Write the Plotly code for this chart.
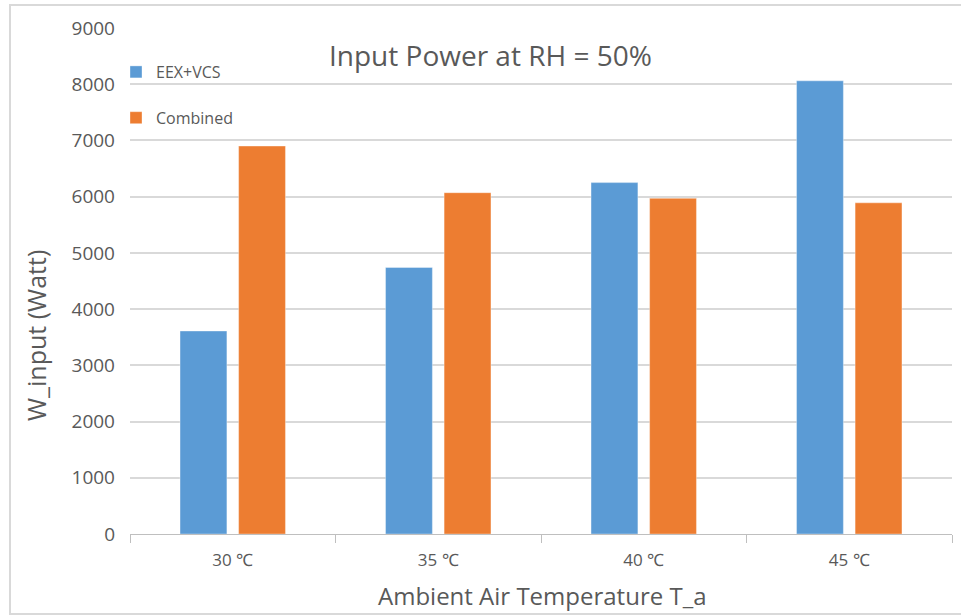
import plotly.graph_objects as go

# Ambient temperature categories and input power (W) per configuration
categories = ["30 ℃", "35 ℃", "40 ℃", "45 ℃"]
eex_vcs = [3610, 4740, 6250, 8060]
combined = [6900, 6070, 5970, 5890]

series_names = ["EEX+VCS", "Combined"]
series_colors = ["#5b9bd5", "#ed7d31"]

y_ticks = list(range(0, 9001, 1000))

TEXT = "#595959"
GRID = "#d9d9d9"
FONT = "Open Sans"

fig = go.Figure()
for name, vals, col, grp in zip(series_names, [eex_vcs, combined], series_colors, ["a", "b"]):
    fig.add_trace(go.Bar(
        x=categories, y=vals, name=name, legendgroup=grp,
        marker=dict(color=col, line=dict(color="rgba(255,255,255,0.35)", width=1)),
    ))

W, H = 961, 615
L, R, T, B = 130, 9, 28, 81
pw, ph = W - L - R, H - T - B

def px_x(x):
    return (x - L) / pw

def px_y(y):
    return (H - B - y) / ph

fig.update_layout(
    width=W, height=H,
    margin=dict(l=L, r=R, t=T, b=B, pad=0),
    paper_bgcolor="white", plot_bgcolor="white",
    font=dict(family=FONT, color=TEXT, size=16),
    barmode="group", bargap=0.43, bargroupgap=0.2,
    showlegend=True,
    legend=dict(
        x=px_x(116), y=px_y(55), xanchor="left", yanchor="top",
        font=dict(size=16, color=TEXT), bgcolor="rgba(0,0,0,0)",
        traceorder="grouped", tracegroupgap=22, itemwidth=30,
    ),
    xaxis=dict(
        type="category", showgrid=False, zeroline=False,
        showline=True, linecolor="#bfbfbf", linewidth=1,
        ticks="outside", tickson="boundaries", ticklen=8, tickcolor="#bfbfbf",
        tickfont=dict(size=17, color=TEXT, family=FONT), ticklabelstandoff=11,
    ),
    yaxis=dict(
        range=[0, 9000], tickvals=y_ticks, ticktext=[str(v) for v in y_ticks],
        showgrid=True, gridcolor=GRID, gridwidth=2, zeroline=False,
        showline=False, ticks="", tickfont=dict(size=19, color=TEXT, family=FONT),
        ticklabelstandoff=14,
    ),
    annotations=[
        dict(text="Input Power at RH = 50%", x=px_x(490), y=px_y(55),
             xref="paper", yref="paper", showarrow=False,
             xanchor="center", yanchor="middle",
             font=dict(size=28, color=TEXT, family=FONT)),
        dict(text="W_input (Watt)", x=px_x(36), y=px_y(336),
             xref="paper", yref="paper", showarrow=False, textangle=-90,
             xanchor="center", yanchor="middle",
             font=dict(size=25, color=TEXT, family=FONT)),
        dict(text="Ambient Air Temperature T_a", x=px_x(542), y=px_y(595),
             xref="paper", yref="paper", showarrow=False,
             xanchor="center", yanchor="middle",
             font=dict(size=24, color=TEXT, family=FONT)),
    ],
    shapes=[
        dict(type="rect", xref="paper", yref="paper",
             x0=px_x(10), x1=px_x(962), y0=px_y(614), y1=px_y(5),
             line=dict(color=GRID, width=2), layer="below"),
    ],
)

fig.write_html("out.html")
